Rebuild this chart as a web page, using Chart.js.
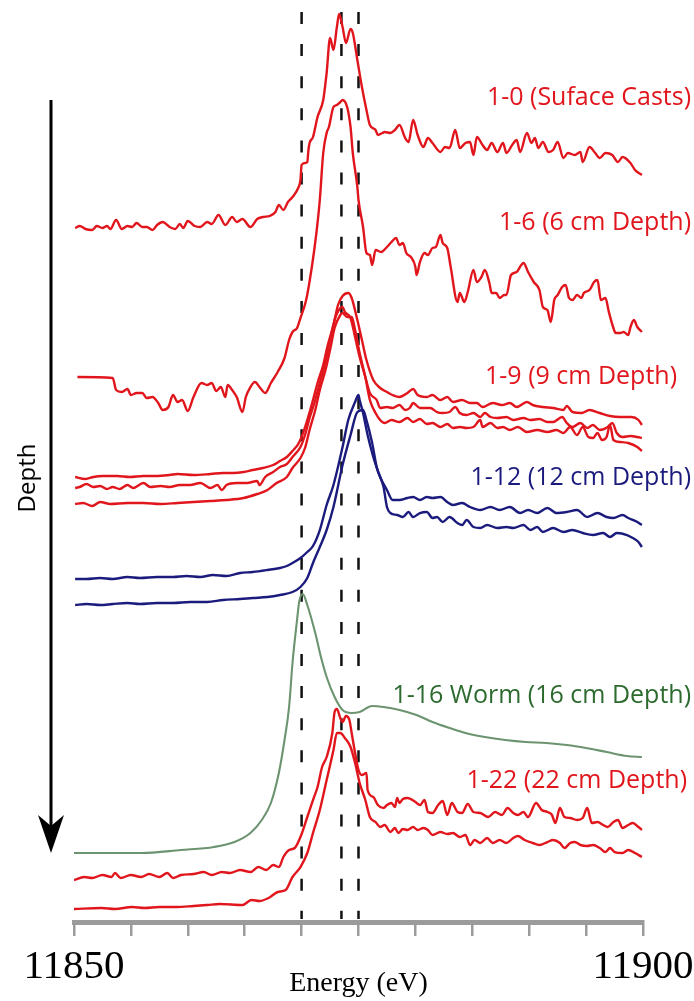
<!DOCTYPE html>
<html>
<head>
<meta charset="utf-8">
<title>XANES by depth</title>
<script src="https://cdn.jsdelivr.net/npm/chart.js@4.4.0/dist/chart.umd.min.js"></script>
<style>
  html, body { margin: 0; padding: 0; background: #fff; }
  #wrap { width: 694px; height: 1001px; position: relative; }
</style>
</head>
<body>
<div id="wrap"><canvas id="xanes"></canvas></div>
<script>
// Spectra as [energy (eV), normalized absorbance + stacking offset]
const spec_1_0 = [
  [11850.1,6.93],[11850.5,6.95],[11851.0,6.92],[11851.6,6.91],[11852.0,6.95],[11852.5,6.93],[11852.9,6.95],[11853.2,6.92],
  [11853.7,7.01],[11854.2,6.92],[11854.7,6.95],[11855.1,6.94],[11855.5,6.98],[11856.0,6.94],[11856.4,6.94],[11856.9,6.91],
  [11857.3,6.96],[11857.8,6.99],[11858.4,6.94],[11858.9,6.92],[11859.3,6.97],[11859.6,6.93],[11860.0,7.00],[11860.6,6.95],
  [11861.1,6.94],[11861.7,6.99],[11862.1,6.97],[11862.7,7.06],[11863.3,6.96],[11863.9,7.04],[11864.3,6.99],[11864.8,7.02],
  [11865.5,6.94],[11866.1,7.02],[11866.6,7.04],[11867.2,7.05],[11867.7,7.09],[11868.0,7.16],[11868.4,7.11],[11868.8,7.19],
  [11869.2,7.24],[11869.7,7.33],[11869.9,7.41],[11870.0,7.56],[11870.3,7.58],[11870.5,7.59],[11870.6,7.71],[11870.7,7.78],
  [11871.0,7.84],[11871.4,8.04],[11871.9,8.21],[11872.2,8.48],[11872.5,8.83],[11872.8,8.71],[11873.1,8.94],[11873.3,9.07],
  [11873.6,8.94],[11873.9,8.78],[11874.3,8.92],[11874.5,8.88],[11874.9,8.61],[11875.3,8.34],[11875.7,8.11],[11876.0,7.96],
  [11876.5,7.91],[11876.7,7.86],[11877.1,7.88],[11877.3,7.89],[11877.8,7.88],[11878.2,7.91],[11878.6,7.96],[11879.1,7.83],
  [11879.4,7.79],[11879.8,8.01],[11880.2,7.86],[11880.7,7.74],[11881.1,7.83],[11881.5,7.78],[11882.2,7.69],[11882.6,7.74],
  [11883.0,7.73],[11883.5,7.91],[11883.9,7.73],[11884.4,7.78],[11884.8,7.79],[11885.1,7.66],[11885.4,7.84],[11885.9,7.76],
  [11886.3,7.71],[11886.7,7.78],[11887.2,7.69],[11887.7,7.78],[11888.0,7.68],[11888.5,7.76],[11888.9,7.81],[11889.2,7.69],
  [11889.8,7.88],[11890.2,7.78],[11890.5,7.83],[11890.8,7.73],[11891.2,7.79],[11891.7,7.69],[11892.1,7.71],[11892.5,7.79],
  [11893.0,7.63],[11893.4,7.68],[11894.0,7.66],[11894.5,7.69],[11894.7,7.59],[11895.3,7.74],[11895.8,7.68],[11896.2,7.63],
  [11896.7,7.68],[11897.3,7.66],[11897.8,7.59],[11898.2,7.64],[11898.9,7.58],[11899.3,7.51],[11899.9,7.46]
];

const spec_1_6 = [
  [11850.3,5.44],[11853.4,5.43],[11853.7,5.31],[11854.2,5.29],[11854.7,5.32],[11855.0,5.26],[11855.5,5.28],[11856.0,5.28],
  [11856.4,5.23],[11856.9,5.24],[11857.4,5.18],[11857.8,5.11],[11858.3,5.14],[11858.7,5.26],[11859.1,5.19],[11859.5,5.21],
  [11860.0,5.10],[11860.5,5.24],[11861.2,5.38],[11861.7,5.36],[11862.1,5.38],[11862.5,5.30],[11862.9,5.34],[11863.3,5.24],
  [11863.5,5.36],[11863.9,5.31],[11864.3,5.24],[11864.8,5.09],[11865.1,5.24],[11865.5,5.34],[11865.9,5.39],[11866.3,5.34],
  [11866.8,5.28],[11867.3,5.38],[11867.9,5.49],[11868.5,5.63],[11868.9,5.81],[11869.2,5.89],[11869.6,5.93],[11869.9,6.03],
  [11870.4,6.21],[11870.9,6.54],[11871.3,6.88],[11871.6,7.21],[11871.9,7.68],[11872.2,7.88],[11872.4,7.94],[11872.8,8.14],
  [11873.1,8.16],[11873.4,8.19],[11873.6,8.21],[11874.0,8.14],[11874.3,7.94],[11874.5,7.68],[11874.9,7.34],[11875.0,7.21],
  [11875.4,6.94],[11875.7,6.68],[11876.0,6.66],[11876.2,6.56],[11876.5,6.71],[11877.0,6.69],[11877.5,6.74],[11877.9,6.79],
  [11878.3,6.83],[11878.6,6.76],[11878.9,6.78],[11879.2,6.68],[11879.6,6.64],[11880.0,6.54],[11880.1,6.46],[11880.4,6.59],
  [11880.8,6.68],[11881.1,6.66],[11881.5,6.73],[11881.8,6.74],[11882.2,6.86],[11882.4,6.78],[11882.8,6.73],[11883.1,6.54],
  [11883.7,6.19],[11883.9,6.28],[11884.3,6.19],[11884.6,6.29],[11885.1,6.51],[11885.4,6.39],[11885.8,6.44],[11886.1,6.51],
  [11886.5,6.38],[11886.7,6.28],[11887.1,6.28],[11887.4,6.23],[11887.8,6.26],[11888.0,6.26],[11888.4,6.46],[11888.9,6.49],
  [11889.3,6.56],[11889.5,6.58],[11889.9,6.49],[11890.4,6.39],[11890.9,6.31],[11891.2,6.14],[11891.6,6.11],[11891.9,5.99],
  [11892.2,6.21],[11892.5,6.26],[11892.9,6.34],[11893.2,6.36],[11893.5,6.23],[11893.8,6.21],[11894.2,6.26],[11894.6,6.23],
  [11894.8,6.28],[11895.3,6.31],[11895.7,6.39],[11896.0,6.41],[11896.3,6.21],[11896.7,6.23],[11897.0,6.09],[11897.4,5.93],
  [11897.6,5.88],[11898.0,5.88],[11898.3,5.89],[11898.7,5.86],[11898.9,5.94],[11899.2,6.01],[11899.5,5.94],[11899.9,5.89]
];

const spec_1_9a = [
  [11850.1,4.44],[11851.0,4.42],[11851.7,4.44],[11852.5,4.45],[11853.8,4.45],[11854.9,4.44],[11856.1,4.45],[11857.3,4.45],
  [11858.4,4.46],[11859.1,4.47],[11860.5,4.46],[11862.0,4.47],[11863.1,4.48],[11864.0,4.48],[11864.9,4.49],[11865.7,4.51],
  [11866.6,4.53],[11867.5,4.56],[11868.1,4.60],[11868.7,4.64],[11869.2,4.70],[11869.7,4.77],[11870.0,4.84],[11870.5,5.01],
  [11871.0,5.21],[11871.4,5.38],[11871.9,5.56],[11872.3,5.76],[11872.8,5.96],[11873.2,6.16],[11873.6,6.25],[11874.1,6.28],
  [11874.4,6.23],[11874.9,6.01],[11875.3,5.81],[11875.7,5.61],[11876.3,5.41],[11876.9,5.33],[11877.5,5.29],[11878.0,5.26],
  [11878.6,5.24],[11879.3,5.28],[11879.8,5.32],[11880.2,5.26],[11881.0,5.24],[11881.5,5.26],[11882.2,5.21],[11882.8,5.24],
  [11883.3,5.19],[11884.1,5.21],[11884.8,5.18],[11885.4,5.18],[11885.9,5.14],[11886.8,5.18],[11887.6,5.16],[11888.3,5.18],
  [11888.9,5.14],[11889.8,5.19],[11890.3,5.16],[11891.2,5.14],[11892.1,5.13],[11893.0,5.11],[11893.3,5.15],[11893.8,5.09],
  [11894.6,5.08],[11895.3,5.11],[11896.2,5.08],[11897.1,5.05],[11898.0,5.04],[11899.0,5.04],[11899.6,5.01],[11899.9,4.96]
];

const spec_1_9b = [
  [11850.1,4.33],[11850.5,4.34],[11851.1,4.37],[11851.7,4.34],[11852.3,4.35],[11852.9,4.32],[11853.4,4.34],[11854.0,4.32],
  [11854.7,4.36],[11855.2,4.33],[11856.1,4.38],[11856.7,4.34],[11857.6,4.35],[11858.4,4.34],[11859.3,4.36],[11860.2,4.36],
  [11861.1,4.38],[11862.0,4.33],[11862.6,4.36],[11863.0,4.31],[11863.4,4.36],[11864.3,4.38],[11865.2,4.38],[11866.1,4.40],
  [11866.3,4.36],[11866.8,4.44],[11867.5,4.49],[11868.1,4.54],[11868.7,4.57],[11869.2,4.64],[11869.9,4.74],[11870.3,4.86],
  [11870.7,5.03],[11871.2,5.21],[11871.6,5.38],[11872.1,5.59],[11872.5,5.81],[11872.9,6.01],[11873.4,6.13],[11873.6,6.14],
  [11873.8,6.09],[11874.3,6.03],[11874.7,5.84],[11875.1,5.64],[11875.6,5.44],[11876.0,5.28],[11876.6,5.21],[11876.9,5.13],
  [11877.5,5.14],[11878.0,5.13],[11878.6,5.16],[11879.1,5.11],[11879.5,5.13],[11879.8,5.18],[11880.4,5.13],[11881.3,5.13],
  [11881.9,5.09],[11882.4,5.08],[11883.0,5.09],[11883.5,5.14],[11883.9,5.08],[11884.5,5.06],[11885.1,5.08],[11885.7,5.04],
  [11886.1,5.08],[11886.6,5.04],[11887.2,5.03],[11888.0,5.04],[11888.6,5.01],[11889.5,5.03],[11890.1,5.01],[11890.9,5.02],
  [11891.6,4.99],[11892.1,4.99],[11892.9,5.04],[11893.3,4.98],[11893.8,4.94],[11894.5,4.98],[11895.1,4.93],[11895.6,4.96],
  [11896.2,4.91],[11896.9,4.94],[11897.3,4.98],[11897.7,4.88],[11898.2,4.84],[11898.9,4.85],[11899.5,4.84],[11899.9,4.83]
];

const spec_1_9c = [
  [11850.1,4.17],[11850.8,4.18],[11851.6,4.15],[11852.3,4.19],[11853.2,4.17],[11854.7,4.18],[11856.1,4.18],[11857.6,4.17],
  [11859.1,4.18],[11860.5,4.19],[11862.0,4.20],[11863.4,4.21],[11864.9,4.23],[11866.1,4.27],[11867.0,4.31],[11867.8,4.38],
  [11868.7,4.44],[11869.2,4.53],[11869.9,4.63],[11870.3,4.73],[11870.7,4.91],[11871.2,5.11],[11871.6,5.31],[11872.1,5.51],
  [11872.5,5.71],[11872.9,5.93],[11873.4,6.06],[11873.6,6.08],[11874.0,6.04],[11874.4,6.04],[11874.7,5.91],[11875.1,5.68],
  [11875.6,5.44],[11876.0,5.21],[11876.5,5.08],[11876.9,5.01],[11877.3,4.98],[11877.9,5.01],[11878.6,4.99],[11879.3,5.03],
  [11879.8,4.99],[11880.4,5.02],[11881.0,4.97],[11881.5,4.98],[11882.2,4.94],[11882.8,4.97],[11883.3,4.93],[11883.9,4.94],
  [11884.5,4.93],[11885.1,4.94],[11885.7,5.01],[11885.9,4.94],[11886.6,4.98],[11887.2,4.93],[11887.7,4.94],[11888.3,4.91],
  [11889.0,4.94],[11889.8,4.89],[11890.7,4.91],[11891.6,4.89],[11892.4,4.91],[11893.0,4.88],[11893.6,4.94],[11894.2,4.86],
  [11894.7,4.94],[11895.2,4.84],[11895.6,4.83],[11896.0,4.88],[11896.4,4.81],[11896.8,4.84],[11897.1,4.96],[11897.4,4.81],
  [11898.0,4.79],[11898.7,4.78],[11899.5,4.74],[11899.9,4.70]
];

const spec_1_12a = [
  [11850.1,3.42],[11851.1,3.42],[11852.3,3.43],[11853.4,3.42],[11854.7,3.44],[11855.8,3.43],[11857.3,3.44],[11858.7,3.44],
  [11859.9,3.45],[11861.1,3.44],[11862.2,3.46],[11863.4,3.45],[11864.6,3.48],[11865.7,3.49],[11867.0,3.51],[11868.1,3.53],
  [11868.7,3.55],[11869.2,3.58],[11869.9,3.63],[11870.5,3.69],[11871.0,3.75],[11871.6,3.91],[11872.2,4.16],[11872.8,4.36],
  [11873.6,4.74],[11874.1,5.01],[11874.7,5.19],[11875.0,5.26],[11875.1,5.21],[11875.4,5.08],[11875.8,4.86],[11876.3,4.64],
  [11876.9,4.44],[11877.5,4.31],[11878.0,4.21],[11878.6,4.21],[11879.3,4.23],[11879.8,4.24],[11880.4,4.21],[11881.0,4.24],
  [11881.5,4.23],[11882.2,4.24],[11882.8,4.19],[11883.3,4.16],[11884.1,4.18],[11884.8,4.14],[11885.7,4.11],[11886.6,4.14],
  [11887.4,4.11],[11888.3,4.14],[11889.2,4.08],[11889.9,4.11],[11890.7,4.08],[11891.6,4.13],[11892.4,4.08],[11893.3,4.09],
  [11894.2,4.11],[11895.1,4.04],[11896.0,4.08],[11896.8,4.04],[11897.4,4.03],[11898.2,4.06],[11898.7,4.03],[11899.5,3.99],
  [11899.9,3.96]
];

const spec_1_12b = [
  [11850.1,3.16],[11851.1,3.17],[11852.3,3.16],[11853.4,3.17],[11854.7,3.18],[11855.8,3.17],[11857.3,3.18],[11858.7,3.18],
  [11860.2,3.19],[11861.7,3.19],[11863.1,3.21],[11864.6,3.22],[11865.7,3.23],[11867.0,3.24],[11868.1,3.26],[11869.2,3.29],
  [11869.9,3.34],[11870.5,3.43],[11871.0,3.58],[11871.6,3.74],[11872.2,3.91],[11872.8,4.14],[11873.6,4.56],[11874.3,4.86],
  [11874.9,5.09],[11875.4,5.11],[11875.7,5.01],[11876.2,4.78],[11876.6,4.54],[11877.2,4.34],[11877.5,4.14],[11877.8,4.08],
  [11878.4,4.06],[11878.9,4.04],[11879.4,4.09],[11879.8,4.04],[11880.4,4.08],[11881.0,4.09],[11881.5,4.03],[11881.9,4.04],
  [11882.4,3.99],[11883.0,4.04],[11883.7,3.98],[11884.1,3.96],[11884.5,4.01],[11885.1,3.94],[11885.7,3.93],[11886.3,3.96],
  [11887.2,3.93],[11888.0,3.94],[11888.6,3.93],[11889.5,3.96],[11890.1,3.91],[11890.7,3.94],[11891.2,3.89],[11892.1,3.93],
  [11893.0,3.89],[11893.8,3.91],[11894.7,3.88],[11895.6,3.86],[11896.5,3.88],[11897.1,3.84],[11897.7,3.88],[11898.6,3.86],
  [11899.1,3.83],[11899.6,3.79],[11899.9,3.74]
];

const spec_1_16 = [
  [11850.0,0.68],[11855.9,0.68],[11859.4,0.71],[11862.3,0.74],[11864.1,0.79],[11865.5,0.88],[11866.5,1.01],[11867.3,1.18],
  [11868.0,1.48],[11868.5,1.81],[11868.9,2.14],[11869.2,2.58],[11869.6,3.01],[11869.8,3.20],[11870.1,3.27],[11870.5,3.16],
  [11871.2,2.88],[11871.7,2.64],[11872.2,2.44],[11872.9,2.24],[11873.6,2.11],[11874.4,2.08],[11875.1,2.09],[11876.2,2.15],
  [11877.2,2.14],[11878.6,2.11],[11880.1,2.06],[11881.5,1.99],[11883.0,1.93],[11884.4,1.88],[11886.1,1.84],[11887.9,1.81],
  [11889.7,1.79],[11891.5,1.78],[11893.3,1.76],[11895.0,1.73],[11896.8,1.69],[11898.6,1.65],[11899.9,1.64]
];

const spec_1_22a = [
  [11850.0,0.41],[11850.9,0.44],[11851.6,0.43],[11852.5,0.46],[11853.3,0.44],[11853.6,0.48],[11854.1,0.43],[11855.0,0.46],
  [11855.9,0.44],[11856.6,0.47],[11857.5,0.44],[11858.2,0.48],[11858.7,0.43],[11859.4,0.46],[11860.5,0.47],[11861.4,0.49],
  [11862.1,0.46],[11863.0,0.49],[11863.7,0.48],[11864.6,0.51],[11865.5,0.49],[11866.2,0.54],[11866.9,0.51],[11867.5,0.56],
  [11868.0,0.54],[11868.4,0.64],[11868.9,0.71],[11869.4,0.73],[11869.9,0.84],[11870.5,1.04],[11871.0,1.21],[11871.4,1.34],
  [11871.8,1.54],[11872.2,1.64],[11872.7,1.88],[11872.9,2.09],[11873.1,2.12],[11873.4,2.03],[11873.6,1.99],[11873.9,2.05],
  [11874.2,2.01],[11874.4,1.88],[11874.7,1.68],[11875.0,1.51],[11875.3,1.46],[11875.7,1.48],[11875.8,1.31],[11876.3,1.24],
  [11876.7,1.16],[11877.2,1.13],[11877.5,1.16],[11877.9,1.18],[11878.2,1.14],[11878.4,1.23],[11878.6,1.18],[11878.9,1.22],
  [11879.3,1.23],[11880.0,1.19],[11880.4,1.16],[11880.8,1.21],[11881.1,1.09],[11881.5,1.08],[11882.0,1.16],[11882.4,1.20],
  [11882.8,1.06],[11883.2,1.18],[11883.7,1.09],[11884.1,1.08],[11884.6,1.17],[11885.1,1.09],[11885.7,1.08],[11886.4,1.04],
  [11887.0,1.09],[11887.6,1.06],[11888.1,1.13],[11888.6,1.08],[11889.0,1.06],[11889.5,1.09],[11889.9,1.04],[11890.6,1.18],
  [11891.1,1.11],[11891.6,1.09],[11892.0,1.06],[11892.3,0.98],[11892.7,1.13],[11893.1,1.04],[11893.6,1.03],[11894.2,1.01],
  [11894.7,1.03],[11895.1,1.13],[11895.5,0.98],[11896.0,0.99],[11896.5,0.96],[11896.9,0.94],[11897.4,0.99],[11897.8,1.01],
  [11898.2,0.93],[11898.7,0.96],[11899.1,0.98],[11899.6,0.94],[11899.9,0.91]
];

const spec_1_22b = [
  [11850.0,0.12],[11852.4,0.13],[11853.6,0.12],[11855.1,0.14],[11856.2,0.13],[11857.5,0.14],[11859.0,0.14],[11860.5,0.15],
  [11861.7,0.16],[11862.8,0.17],[11864.8,0.16],[11865.6,0.21],[11866.3,0.20],[11867.1,0.23],[11867.9,0.29],[11868.6,0.31],
  [11869.2,0.44],[11869.9,0.54],[11870.5,0.68],[11871.0,0.88],[11871.6,1.11],[11872.2,1.41],[11872.8,1.71],[11873.1,1.88],
  [11873.4,1.88],[11873.8,1.83],[11874.3,1.74],[11874.7,1.58],[11875.1,1.38],[11875.6,1.21],[11876.0,1.04],[11876.5,0.99],
  [11876.9,0.94],[11877.3,0.96],[11877.8,0.89],[11878.2,0.93],[11878.5,0.88],[11878.9,0.92],[11879.3,0.91],[11879.8,0.94],
  [11880.2,0.91],[11880.7,0.93],[11881.1,0.91],[11881.5,0.86],[11882.2,0.89],[11882.8,0.87],[11883.3,0.88],[11883.9,0.84],
  [11884.4,0.86],[11884.8,0.76],[11885.2,0.81],[11885.7,0.78],[11886.3,0.83],[11886.8,0.78],[11887.4,0.81],[11888.0,0.78],
  [11888.6,0.83],[11889.0,0.85],[11889.6,0.81],[11890.3,0.78],[11890.9,0.76],[11891.6,0.79],[11892.1,0.81],[11892.7,0.78],
  [11893.1,0.73],[11893.6,0.78],[11894.0,0.79],[11894.5,0.76],[11895.1,0.75],[11895.6,0.76],[11896.2,0.73],[11896.7,0.69],
  [11897.1,0.73],[11897.5,0.69],[11898.2,0.68],[11898.7,0.71],[11899.3,0.68],[11899.9,0.64]
];

// reference energies marked with dashed lines
const edgeEnergies = [11870, 11873.5, 11875];
const energyRange = [11850, 11900];
const labeledTicks = [11850, 11900];

const RED = '#e1161d';
const NAVY = '#1b1a7d';
const SAGE = '#6c9470';

const series = [
  { data: spec_1_0, color: RED },
  { data: spec_1_6, color: RED },
  { data: spec_1_9a, color: RED },
  { data: spec_1_9b, color: RED },
  { data: spec_1_9c, color: RED },
  { data: spec_1_12a, color: NAVY },
  { data: spec_1_12b, color: NAVY },
  { data: spec_1_16, color: SAGE },
  { data: spec_1_22a, color: RED },
  { data: spec_1_22b, color: RED }
];

// sample names written beside the curves (right edge x, middle y in px)
const sampleLabels = [
  { text: '1-0 (Suface Casts)', color: RED, right: 691, y: 98 },
  { text: '1-6 (6 cm Depth)', color: RED, right: 691, y: 223 },
  { text: '1-9 (9 cm Depth)', color: RED, right: 677, y: 377 },
  { text: '1-12 (12 cm Depth)', color: NAVY, right: 691, y: 478 },
  { text: '1-16 Worm (16 cm Depth)', color: '#2c6a2e', right: 691, y: 696 },
  { text: '1-22 (22 cm Depth)', color: RED, right: 687, y: 781 }
];

const datasets = series.map(s => ({
  data: s.data.map(([x, y]) => ({ x, y })),
  borderColor: s.color,
  borderWidth: s.color === SAGE ? 2.1 : 2.4,
  cubicInterpolationMode: 'monotone',
  pointRadius: 0,
  order: 1
}));

edgeEnergies.forEach(e => {
  datasets.push({
    data: [{ x: e, y: 9.09 }, { x: e, y: 0.02 }],
    borderColor: '#111',
    borderWidth: 2.5,
    borderDash: [12, 20.1],
    pointRadius: 0,
    tension: 0,
    order: 5
  });
});

const annotations = {
  id: 'annotations',
  afterDraw(chart) {
    const ctx = chart.ctx;
    ctx.save();

    // depth arrow
    ctx.strokeStyle = '#000';
    ctx.fillStyle = '#000';
    ctx.lineWidth = 3;
    ctx.beginPath();
    ctx.moveTo(51, 100);
    ctx.lineTo(51, 832);
    ctx.stroke();
    ctx.beginPath();
    ctx.moveTo(51, 853);
    ctx.lineTo(38, 815);
    ctx.lineTo(51, 826);
    ctx.lineTo(64, 815);
    ctx.closePath();
    ctx.fill();

    ctx.save();
    ctx.translate(28, 478);
    ctx.rotate(-Math.PI / 2);
    ctx.font = '24px "Open Sans"';
    ctx.textAlign = 'center';
    ctx.textBaseline = 'middle';
    ctx.fillText('Depth', 0, 0);
    ctx.restore();

    ctx.font = '25px "Open Sans"';
    ctx.textAlign = 'right';
    ctx.textBaseline = 'middle';
    sampleLabels.forEach(l => {
      ctx.fillStyle = l.color;
      ctx.fillText(l.text, l.right, l.y);
    });
    ctx.restore();
  }
};

new Chart(document.getElementById('xanes'), {
  type: 'line',
  data: { datasets },
  options: {
    responsive: true,
    maintainAspectRatio: false,
    animation: false,
    layout: { padding: { left: 74, right: 51, top: 0, bottom: 3 } },
    plugins: {
      legend: { display: false },
      tooltip: { enabled: false }
    },
    scales: {
      x: {
        type: 'linear',
        min: energyRange[0],
        max: energyRange[1],
        border: { display: true, color: '#9b9b9b', width: 5 },
        grid: { drawOnChartArea: false, drawTicks: true, tickLength: 14, color: '#9b9b9b', lineWidth: 2.5 },
        ticks: {
          stepSize: 5,
          autoSkip: false,
          maxRotation: 0,
          padding: 0,
          color: '#000',
          font: { family: 'Liberation Serif', size: 41, lineHeight: 1.512 },
          callback: v => labeledTicks.includes(v) ? String(v) : ''
        },
        title: {
          display: true,
          text: 'Energy (eV)',
          color: '#000',
          font: { family: 'Liberation Serif', size: 28, lineHeight: 1 },
          padding: { top: -28, bottom: 0 }
        }
      },
      y: { display: false, min: -0.01, max: 9.21 }
    }
  },
  plugins: [annotations]
});
</script>
</body>
</html>
